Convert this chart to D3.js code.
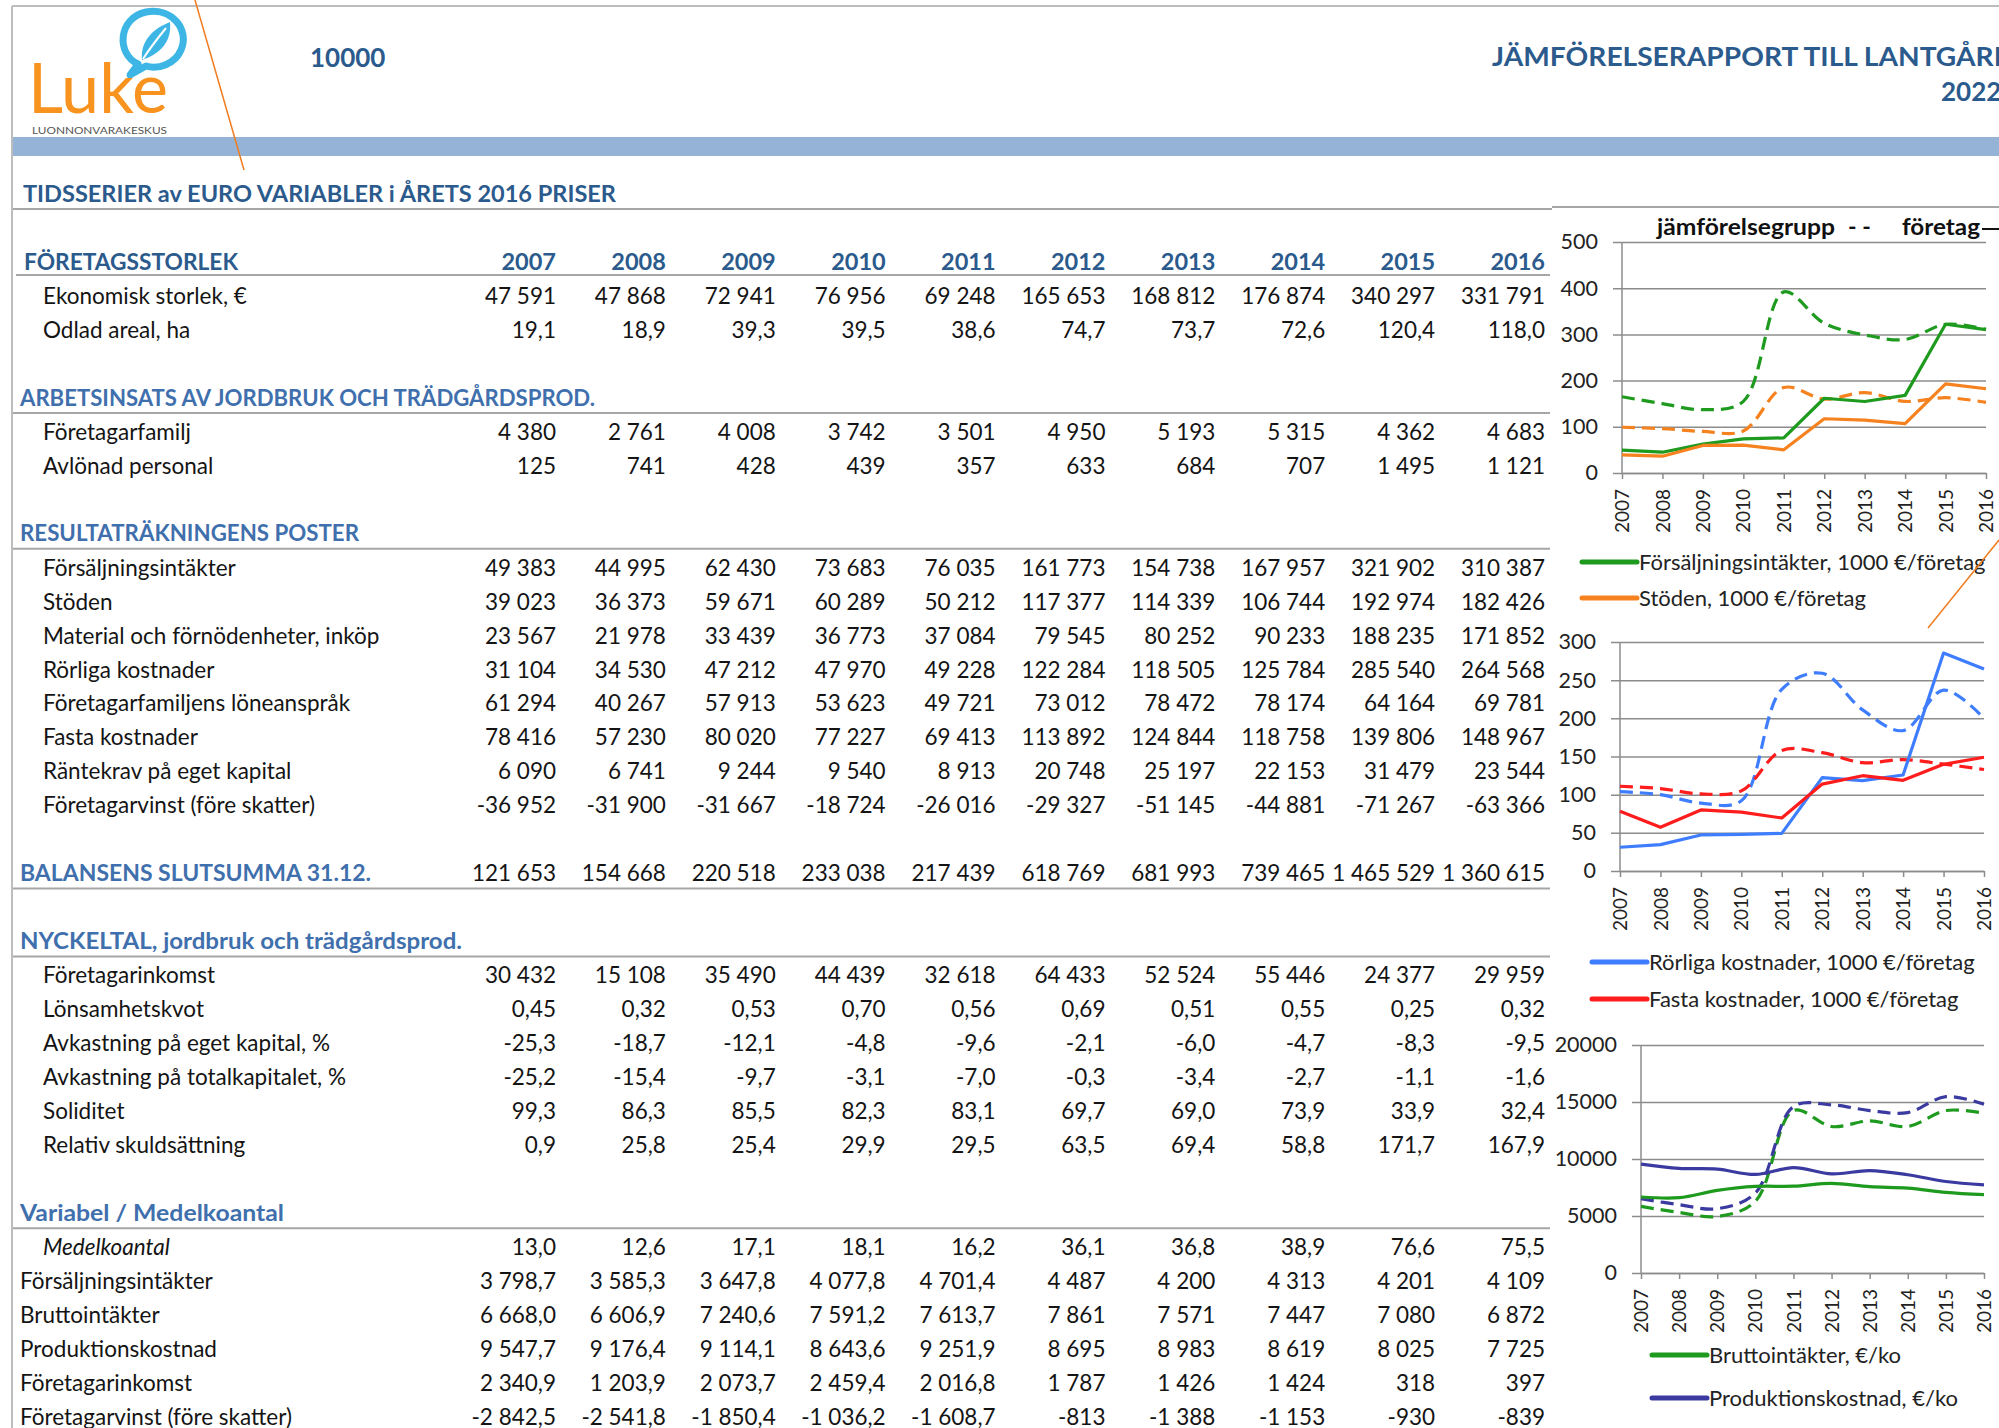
<!DOCTYPE html>
<html>
<head>
<meta charset="utf-8">
<script src="https://cdn.jsdelivr.net/npm/d3@7"></script>
<style>
  body { margin: 0; background: #fff; }
  svg { display: block; font-family: Lato, "Open Sans", sans-serif; }
</style>
</head>
<body>
<svg id="page" width="1999" height="1428"></svg>
<script>
// ---- data ----
const years = [2007, 2008, 2009, 2010, 2011, 2012, 2013, 2014, 2015, 2016];

const ekonomiskStorlek = [47591, 47868, 72941, 76956, 69248, 165653, 168812, 176874, 340297, 331791];
const odladAreal = [19.1, 18.9, 39.3, 39.5, 38.6, 74.7, 73.7, 72.6, 120.4, 118.0];

const foretagarfamilj = [4380, 2761, 4008, 3742, 3501, 4950, 5193, 5315, 4362, 4683];
const avlonadPersonal = [125, 741, 428, 439, 357, 633, 684, 707, 1495, 1121];

const forsaljning = [49383, 44995, 62430, 73683, 76035, 161773, 154738, 167957, 321902, 310387];
const stoden = [39023, 36373, 59671, 60289, 50212, 117377, 114339, 106744, 192974, 182426];
const material = [23567, 21978, 33439, 36773, 37084, 79545, 80252, 90233, 188235, 171852];
const rorliga = [31104, 34530, 47212, 47970, 49228, 122284, 118505, 125784, 285540, 264568];
const loneansprak = [61294, 40267, 57913, 53623, 49721, 73012, 78472, 78174, 64164, 69781];
const fasta = [78416, 57230, 80020, 77227, 69413, 113892, 124844, 118758, 139806, 148967];
const rantekrav = [6090, 6741, 9244, 9540, 8913, 20748, 25197, 22153, 31479, 23544];
const foretagarvinst = [-36952, -31900, -31667, -18724, -26016, -29327, -51145, -44881, -71267, -63366];

const balans = [121653, 154668, 220518, 233038, 217439, 618769, 681993, 739465, 1465529, 1360615];

const foretagarinkomst = [30432, 15108, 35490, 44439, 32618, 64433, 52524, 55446, 24377, 29959];
const lonsamhet = [0.45, 0.32, 0.53, 0.70, 0.56, 0.69, 0.51, 0.55, 0.25, 0.32];
const avkEget = [-25.3, -18.7, -12.1, -4.8, -9.6, -2.1, -6.0, -4.7, -8.3, -9.5];
const avkTotal = [-25.2, -15.4, -9.7, -3.1, -7.0, -0.3, -3.4, -2.7, -1.1, -1.6];
const soliditet = [99.3, 86.3, 85.5, 82.3, 83.1, 69.7, 69.0, 73.9, 33.9, 32.4];
const relativ = [0.9, 25.8, 25.4, 29.9, 29.5, 63.5, 69.4, 58.8, 171.7, 167.9];

const medelkoantal = [13.0, 12.6, 17.1, 18.1, 16.2, 36.1, 36.8, 38.9, 76.6, 75.5];
const koForsaljning = [3798.7, 3585.3, 3647.8, 4077.8, 4701.4, 4487, 4200, 4313, 4201, 4109];
const koBrutto = [6668.0, 6606.9, 7240.6, 7591.2, 7613.7, 7861, 7571, 7447, 7080, 6872];
const koProduktion = [9547.7, 9176.4, 9114.1, 8643.6, 9251.9, 8695, 8983, 8619, 8025, 7725];
const koInkomst = [2340.9, 1203.9, 2073.7, 2459.4, 2016.8, 1787, 1426, 1424, 318, 397];
const koVinst = [-2842.5, -2541.8, -1850.4, -1036.2, -1608.7, -813, -1388, -1153, -930, -839];

// comparison group, 1000 €/företag
const grpForsaljning = [165, 150, 137, 155, 392, 324, 299, 289, 322, 311];
const grpStoden = [99, 96, 90, 91, 185, 160, 174, 155, 163, 153];
const grpRorliga = [104, 100, 89, 92, 238, 259, 211, 184, 237, 200];
const grpFasta = [111, 108, 101, 105, 158, 155, 142, 146, 140, 133];
// comparison group, €/ko
const grpBrutto = [5840, 5310, 4960, 6280, 14250, 12850, 13340, 12850, 14250, 14020];
const grpProduktion = [6510, 5990, 5640, 7010, 14600, 14750, 14250, 14070, 15470, 14800];

// ---- style ----
const palette = {
  dark: '#2b5a8c',
  section: '#3f70ad',
  text: '#141414',
  rule: '#a6a6a6',
  grid: '#8c8c8c',
  green: '#1e9a1e',
  orange: '#f5821f',
  blue: '#3f7dff',
  red: '#ff1c1c',
  navy: '#3a3aa0',
  leaf: '#3db6e5'
};

const loc = d3.formatLocale({ decimal: ',', thousands: '\u00a0', grouping: [3], currency: ['', ''], minus: '-' });
const f0 = loc.format(',.0f');
const f1 = loc.format(',.1f');
const f2 = loc.format(',.2f');
const fMix = (v, i) => years[i] <= 2011 ? f1(v) : f0(v);

const svg = d3.select('#page');

// ---- page frame & header ----
svg.append('line').attr('x1', 12).attr('x2', 1999).attr('y1', 6).attr('y2', 6)
  .attr('stroke', '#bdbdbd').attr('stroke-width', 2);
svg.append('line').attr('x1', 12).attr('x2', 12).attr('y1', 6).attr('y2', 1428)
  .attr('stroke', '#bdbdbd').attr('stroke-width', 2);

// logo
const logo = svg.append('g');
logo.append('path')
  .attr('d', 'M138,64 C116,54 118,18 146,12 C172,7 190,30 181,50 C175,64 158,70 146,66 L130,75 Z')
  .attr('fill', 'none').attr('stroke', palette.leaf).attr('stroke-width', 7).attr('stroke-linejoin', 'round');
logo.append('path')
  .attr('d', 'M142,60 C140,42 152,29 170,22 C172,42 160,54 142,60 Z')
  .attr('fill', palette.leaf);
logo.append('path')
  .attr('d', 'M143,59 C150,48 157,39 166,28')
  .attr('fill', 'none').attr('stroke', '#fff').attr('stroke-width', 2);
logo.append('text').attr('x', 28).attr('y', 113)
  .attr('font-size', 70).attr('fill', '#f7931e').attr('textLength', 140)
  .attr('lengthAdjust', 'spacingAndGlyphs').text('Luke');
logo.append('text').attr('x', 32).attr('y', 134)
  .attr('font-size', 9).attr('fill', '#555').attr('textLength', 135)
  .attr('lengthAdjust', 'spacingAndGlyphs').text('LUONNONVARAKESKUS');

svg.append('text').attr('x', 310).attr('y', 67).attr('font-size', 26).attr('font-weight', 700)
  .attr('fill', palette.dark).text('10000');
svg.append('text').attr('x', 1492).attr('y', 66).attr('font-size', 26).attr('font-weight', 700)
  .attr('fill', palette.dark).attr('textLength', 560).attr('lengthAdjust', 'spacingAndGlyphs')
  .text('JÄMFÖRELSERAPPORT TILL LANTGÅRDAR');
svg.append('text').attr('x', 1941).attr('y', 101).attr('font-size', 26).attr('font-weight', 700)
  .attr('fill', palette.dark).text('2022');

svg.append('rect').attr('x', 13).attr('y', 137).attr('width', 1986).attr('height', 19)
  .attr('fill', '#95b3d7');

svg.append('text').attr('x', 23).attr('y', 202).attr('font-size', 22).attr('font-weight', 700)
  .attr('fill', palette.dark).attr('textLength', 593).attr('lengthAdjust', 'spacingAndGlyphs')
  .text('TIDSSERIER av EURO VARIABLER i ÅRETS 2016 PRISER');
svg.append('line').attr('x1', 13).attr('x2', 1552).attr('y1', 209).attr('y2', 209)
  .attr('stroke', palette.rule).attr('stroke-width', 2);
svg.append('line').attr('x1', 1552).attr('x2', 1999).attr('y1', 207).attr('y2', 207)
  .attr('stroke', palette.rule).attr('stroke-width', 2);

// ---- table ----
const rows = [
  { kind: 'top', label: 'FÖRETAGSSTORLEK', width: 214 },
  { label: 'Ekonomisk storlek, €', values: ekonomiskStorlek, f: f0 },
  { label: 'Odlad areal, ha', values: odladAreal, f: f1 },
  { kind: 'blank' },
  { kind: 'section', label: 'ARBETSINSATS AV JORDBRUK OCH TRÄDGÅRDSPROD.', width: 575 },
  { label: 'Företagarfamilj', values: foretagarfamilj, f: f0 },
  { label: 'Avlönad personal', values: avlonadPersonal, f: f0 },
  { kind: 'blank' },
  { kind: 'section', label: 'RESULTATRÄKNINGENS POSTER', width: 339 },
  { label: 'Försäljningsintäkter', values: forsaljning, f: f0 },
  { label: 'Stöden', values: stoden, f: f0 },
  { label: 'Material och förnödenheter, inköp', values: material, f: f0 },
  { label: 'Rörliga kostnader', values: rorliga, f: f0 },
  { label: 'Företagarfamiljens löneanspråk', values: loneansprak, f: f0 },
  { label: 'Fasta kostnader', values: fasta, f: f0 },
  { label: 'Räntekrav på eget kapital', values: rantekrav, f: f0 },
  { label: 'Företagarvinst (före skatter)', values: foretagarvinst, f: f0 },
  { kind: 'blank' },
  { kind: 'section', label: 'BALANSENS SLUTSUMMA 31.12.', values: balans, f: f0, width: 351 },
  { kind: 'blank' },
  { kind: 'section', label: 'NYCKELTAL, jordbruk och trädgårdsprod.', width: 442 },
  { label: 'Företagarinkomst', values: foretagarinkomst, f: f0 },
  { label: 'Lönsamhetskvot', values: lonsamhet, f: f2 },
  { label: 'Avkastning på eget kapital, %', values: avkEget, f: f1 },
  { label: 'Avkastning på totalkapitalet, %', values: avkTotal, f: f1 },
  { label: 'Soliditet', values: soliditet, f: f1 },
  { label: 'Relativ skuldsättning', values: relativ, f: f1 },
  { kind: 'blank' },
  { kind: 'section', label: 'Variabel / Medelkoantal', width: 264 },
  { label: 'Medelkoantal', values: medelkoantal, f: f1, italic: true },
  { label: 'Försäljningsintäkter', values: koForsaljning, f: fMix, flush: true },
  { label: 'Bruttointäkter', values: koBrutto, f: fMix, flush: true },
  { label: 'Produktionskostnad', values: koProduktion, f: fMix, flush: true },
  { label: 'Företagarinkomst', values: koInkomst, f: fMix, flush: true },
  { label: 'Företagarvinst (före skatter)', values: koVinst, f: fMix, flush: true }
];

const rowY = d3.scaleLinear().domain([0, 34]).range([262, 1417]);
const colX = d3.scalePoint().domain(years).range([556, 1545]);

const table = svg.append('g').attr('font-size', 22.5);

rows.forEach((r, i) => {
  if (r.kind === 'blank') return;
  const y = rowY(i);
  if (r.kind === 'top') {
    table.append('text').attr('x', 24).attr('y', y).attr('dy', '0.35em')
      .attr('font-weight', 700).attr('fill', palette.dark)
      .attr('textLength', r.width).attr('lengthAdjust', 'spacingAndGlyphs').text(r.label);
    table.selectAll(null).data(years).enter().append('text')
      .attr('x', d => colX(d)).attr('y', y).attr('dy', '0.35em').attr('font-size', 23.5)
      .attr('text-anchor', 'end').attr('font-weight', 700).attr('fill', palette.dark)
      .text(d => d);
    table.append('line').attr('x1', 16).attr('x2', 1550).attr('y1', y + 13).attr('y2', y + 13)
      .attr('stroke', palette.rule).attr('stroke-width', 2);
    return;
  }
  if (r.kind === 'section') {
    table.append('text').attr('x', 20).attr('y', y).attr('dy', '0.35em').attr('font-size', 22)
      .attr('font-weight', 700).attr('fill', palette.section)
      .attr('textLength', r.width).attr('lengthAdjust', 'spacingAndGlyphs').text(r.label);
    table.append('line').attr('x1', 13).attr('x2', 1550).attr('y1', y + 15).attr('y2', y + 15)
      .attr('stroke', palette.rule).attr('stroke-width', 2);
  } else {
    table.append('text').attr('x', r.flush ? 20 : 43).attr('y', y).attr('dy', '0.35em')
      .attr('fill', palette.text).attr('font-style', r.italic ? 'italic' : null).text(r.label);
  }
  if (r.values) {
    table.selectAll(null).data(r.values).enter().append('text')
      .attr('x', (d, j) => colX(years[j])).attr('y', y).attr('dy', '0.35em')
      .attr('text-anchor', 'end').attr('fill', palette.text)
      .text((d, j) => r.f(d, j));
  }
});

// ---- charts ----
function drawChart(c) {
  const g = svg.append('g');
  const x = d3.scalePoint().domain(years).range([c.x0, c.x1]);
  const y = d3.scaleLinear().domain([0, c.max]).range([c.yb, c.yt]);
  const ticks = d3.range(0, c.max + 1, c.step);

  const ya = g.append('g').attr('transform', `translate(${c.x1},0)`)
    .call(d3.axisLeft(y).tickValues(ticks).tickSize(c.x1 - c.x0 + 9).tickPadding(15).tickFormat(d3.format('d')));
  ya.select('.domain').remove();
  ya.selectAll('line').attr('stroke', palette.grid).attr('stroke-width', 1.5);
  ya.selectAll('text').attr('font-size', 21.5).attr('font-family', 'Lato, sans-serif').attr('fill', '#222');

  g.append('line').attr('x1', c.x0).attr('x2', c.x0).attr('y1', c.yt).attr('y2', c.yb)
    .attr('stroke', palette.grid).attr('stroke-width', 1.5);

  const xa = g.append('g').attr('transform', `translate(0,${c.yb})`)
    .call(d3.axisBottom(x).tickSize(6).tickSizeOuter(0));
  xa.select('.domain').attr('stroke', palette.grid).attr('stroke-width', 1.5);
  xa.selectAll('line').attr('stroke', palette.grid).attr('stroke-width', 1.5);
  xa.selectAll('text')
    .attr('font-size', 19).attr('font-family', 'Lato, sans-serif').attr('fill', '#222')
    .attr('transform', 'rotate(-90)').attr('text-anchor', 'end')
    .attr('x', -16).attr('y', 0).attr('dy', '0.35em');

  c.series.forEach(s => {
    const line = d3.line()
      .x((d, i) => x(years[i]))
      .y(d => y(d))
      .curve(s.dashed || c.smooth ? d3.curveCatmullRom.alpha(0.5) : d3.curveLinear);
    g.append('path').datum(s.values)
      .attr('d', line).attr('fill', 'none')
      .attr('stroke', s.color).attr('stroke-width', 3.2)
      .attr('stroke-dasharray', s.dashed ? '13,7' : null)
      .attr('stroke-linejoin', 'round');
  });

  c.legend.forEach((l, i) => {
    const ly = c.legendY + i * c.legendGap;
    g.append('line').attr('x1', c.legendX).attr('x2', c.legendX + 55).attr('y1', ly).attr('y2', ly)
      .attr('stroke', l.color).attr('stroke-width', 5).attr('stroke-linecap', 'round');
    g.append('text').attr('x', c.legendX + 57).attr('y', ly).attr('dy', '0.35em')
      .attr('font-size', 22).attr('fill', '#222').text(l.label);
  });
}

// legend header above the first chart
const lh = svg.append('g').attr('font-size', 23).attr('font-weight', 700).attr('fill', '#111');
lh.append('text').attr('x', 1657).attr('y', 227).attr('dy', '0.35em')
  .attr('textLength', 178).attr('lengthAdjust', 'spacingAndGlyphs').text('jämförelsegrupp');
lh.append('text').attr('x', 1848).attr('y', 227).attr('dy', '0.35em').text('- -');
lh.append('text').attr('x', 1902).attr('y', 227).attr('dy', '0.35em')
  .attr('textLength', 78).attr('lengthAdjust', 'spacingAndGlyphs').text('företag');
svg.append('line').attr('x1', 1982).attr('x2', 1999).attr('y1', 229).attr('y2', 229)
  .attr('stroke', '#111').attr('stroke-width', 2);

drawChart({
  x0: 1622, x1: 1986, yb: 473, yt: 242, max: 500, step: 100,
  series: [
    { values: grpForsaljning, color: palette.green, dashed: true },
    { values: grpStoden, color: palette.orange, dashed: true },
    { values: forsaljning.map(d => d / 1000), color: palette.green },
    { values: stoden.map(d => d / 1000), color: palette.orange }
  ],
  legendX: 1582, legendY: 562, legendGap: 36,
  legend: [
    { label: 'Försäljningsintäkter, 1000 €/företag', color: palette.green },
    { label: 'Stöden, 1000 €/företag', color: palette.orange }
  ]
});

drawChart({
  x0: 1620, x1: 1984, yb: 871, yt: 642, max: 300, step: 50,
  series: [
    { values: grpRorliga, color: palette.blue, dashed: true },
    { values: grpFasta, color: palette.red, dashed: true },
    { values: rorliga.map(d => d / 1000), color: palette.blue },
    { values: fasta.map(d => d / 1000), color: palette.red }
  ],
  legendX: 1592, legendY: 962, legendGap: 37,
  legend: [
    { label: 'Rörliga kostnader, 1000 €/företag', color: palette.blue },
    { label: 'Fasta kostnader, 1000 €/företag', color: palette.red }
  ]
});

drawChart({
  x0: 1641, x1: 1984, yb: 1273, yt: 1045, max: 20000, step: 5000, smooth: true,
  series: [
    { values: grpBrutto, color: palette.green, dashed: true },
    { values: grpProduktion, color: palette.navy, dashed: true },
    { values: koBrutto, color: palette.green },
    { values: koProduktion, color: palette.navy }
  ],
  legendX: 1652, legendY: 1355, legendGap: 43,
  legend: [
    { label: 'Bruttointäkter, €/ko', color: palette.green },
    { label: 'Produktionskostnad, €/ko', color: palette.navy }
  ]
});

// orange pointer lines
svg.append('line').attr('x1', 195).attr('y1', 0).attr('x2', 244).attr('y2', 170)
  .attr('stroke', '#f07c1e').attr('stroke-width', 1.5);
svg.append('line').attr('x1', 1999).attr('y1', 540).attr('x2', 1928).attr('y2', 628)
  .attr('stroke', '#f07c1e').attr('stroke-width', 1.5);
</script>
</body>
</html>
